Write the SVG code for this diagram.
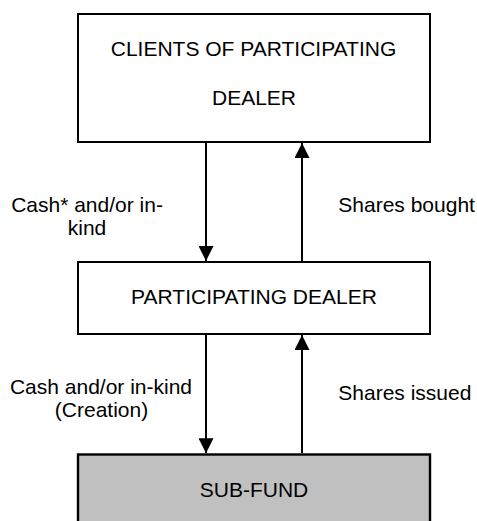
<svg xmlns="http://www.w3.org/2000/svg" width="477" height="521" viewBox="0 0 477 521">
  <style>
    .box { fill: #ffffff; stroke: #000000; stroke-width: 2; }
    .fund { fill: #c0c0c0; stroke: #000000; stroke-width: 2.4; }
    .t { font-family: "Liberation Sans", Arial, sans-serif; font-size: 21px; fill: #000000; }
    .c { text-anchor: middle; }
    .edge { stroke: #000000; stroke-width: 2; fill: none; marker-end: url(#ah); }
  </style>
  <defs>
    <marker id="ah" markerUnits="userSpaceOnUse" markerWidth="15" markerHeight="15" refX="15" refY="7.5" orient="auto">
      <path d="M0,0 L15,7.5 L0,15 z" fill="#000000"/>
    </marker>
  </defs>
  <rect width="477" height="521" fill="#ffffff"/>

  <g id="connectors">
    <line class="edge" x1="206" y1="143" x2="206" y2="261"/>
    <line class="edge" x1="302" y1="261" x2="302" y2="143"/>
    <line class="edge" x1="206" y1="335" x2="206" y2="453.3"/>
    <line class="edge" x1="302" y1="453.3" x2="302" y2="335"/>
  </g>

  <g id="node-clients">
    <rect class="box" x="78" y="14" width="352" height="128"/>
    <text class="t c" x="253.5" y="56">CLIENTS OF PARTICIPATING</text>
    <text class="t c" x="254" y="105">DEALER</text>
  </g>

  <g id="node-dealer">
    <rect class="box" x="78" y="262" width="352" height="72"/>
    <text class="t c" x="254" y="304">PARTICIPATING DEALER</text>
  </g>

  <g id="node-subfund">
    <rect class="fund" x="78" y="454.5" width="352" height="80"/>
    <text class="t c" x="254" y="496.5">SUB-FUND</text>
  </g>

  <g id="labels">
    <text class="t c" x="87" y="212">Cash* and/or in-</text>
    <text class="t c" x="87" y="234.5">kind</text>
    <text class="t" x="338.3" y="212">Shares bought</text>
    <text class="t c" x="101" y="393.5">Cash and/or in-kind</text>
    <text class="t c" x="101.5" y="416.5">(Creation)</text>
    <text class="t" x="338.3" y="400">Shares issued</text>
  </g>
</svg>
